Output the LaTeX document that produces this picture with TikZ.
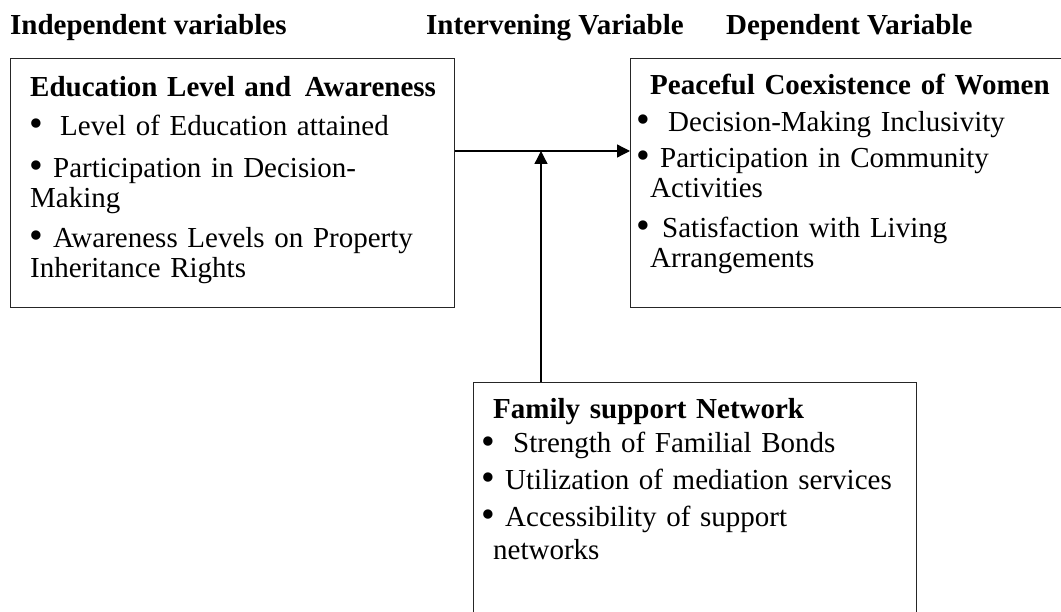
\documentclass[tikz,border=0pt]{standalone}
\usepackage{fontspec}
\setmainfont{Liberation Serif}
\usetikzlibrary{arrows.meta}
\newcommand{\bul}[1]{\makebox[#1][l]{\hspace{-1pt}\raisebox{-1pt}{\smash{\scalebox{1.35}{•}}}}}
\begin{document}
\begin{tikzpicture}[x=1pt,y=-1pt,
  box/.style={draw=black!85,line width=1.3pt,rectangle,inner sep=0pt,anchor=north west},
  body/.style={anchor=base west,inner sep=0pt,align=left,font=\fontsize{29}{30}\selectfont},
  head/.style={anchor=base west,inner sep=0pt,font=\fontsize{29}{30}\selectfont\bfseries},
  arr/.style={draw=black,line width=1.3pt,-{Triangle[length=13pt,width=13pt]}}]
\useasboundingbox (0,0) rectangle (1061,612);
% headers
\node[head] (h1) at (10,35) {Independent variables};
\node[head] (h2) at (426,35) {Intervening Variable};
\node[head] (h3) at (726,35) {Dependent Variable};
% boxes
\node[box,minimum width=444pt,minimum height=249pt] (edu) at (10,58) {};
\node[box,minimum width=440pt,minimum height=249pt] (peace) at (630,58) {};
\node[box,minimum width=443pt,minimum height=240pt] (fam) at (473,382) {};
% texts
\node[body,text width=420pt] (edut) at (30,97) {%
\textbf{Education Level and\hspace{4pt} Awareness}\\[9pt]
\bul{30pt}Level of Education attained\\[12pt]
\bul{23pt}Participation in Decision-\\
Making\\[10pt]
\bul{23pt}Awareness Levels on Property\\
Inheritance Rights};
\node[body,text width=420pt] (peacet) at (637,95) {%
\hspace{13pt}\textbf{Peaceful Coexistence of Women}\\[7pt]
\bul{31pt}Decision-Making Inclusivity\\[6pt]
\bul{23pt}Participation in Community\\
\hspace{13pt}Activities\\[10pt]
\bul{25pt}Satisfaction with Living\\
\hspace{13pt}Arrangements};
\node[body,text width=430pt] (famt) at (482,418) {%
\hspace{11pt}\textbf{Family support Network}\\[5pt]
\bul{31pt}Strength of Familial Bonds\\[7pt]
\bul{23pt}Utilization of mediation services\\[6pt]
\bul{23pt}Accessibility of support\\[4pt]
\hspace{11pt}networks};
% connectors
\coordinate (hy) at (0,151);
\coordinate (j) at (541,151);
\draw[arr] (edu.east |- hy) -- (peace.west |- hy);
\draw[arr] (fam.north -| j) -- (j);
\end{tikzpicture}
\end{document}
